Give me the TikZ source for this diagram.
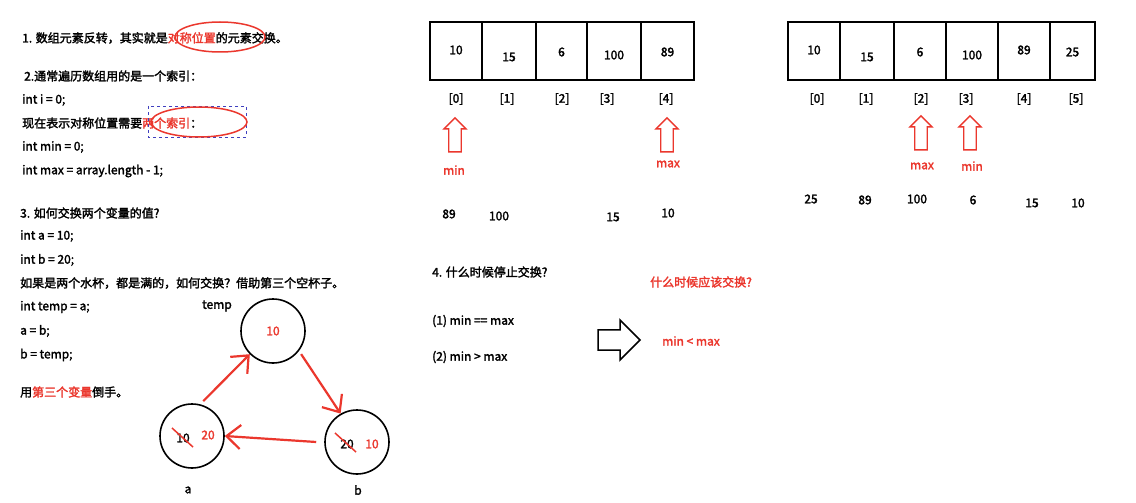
\documentclass[tikz,border=0pt]{standalone}
\usepackage{fontspec}
\setmainfont{Noto Sans CJK SC}[AutoFakeBold=2]
\usetikzlibrary{shapes.arrows,arrows.meta}
\definecolor{rd}{RGB}{235,55,45}
\begin{document}
\begin{tikzpicture}[x=1pt,y=-1pt,
  every node/.style={font=\fontsize{12}{14}\selectfont\bfseries},
  t/.style={anchor=west,inner sep=0},
  r/.style={text=rd},
  cell/.style={draw,line width=1.6pt},
  cup/.style={circle,draw,line width=1.6pt,minimum size=64pt},
  uparr/.style={single arrow,draw=rd,line width=1.3pt,shape border rotate=90,minimum height=34pt,minimum width=22pt,single arrow head extend=2pt,inner sep=2pt},
  ra/.style={draw=rd,line width=2.2pt,-{Straight Barb[length=14pt,width=24pt]}}]
\useasboundingbox (0,0) rectangle (1136,503);
\fill[white] (0,0) rectangle (1136,503);
% left text
\node[t] (l1) at (22,38) {1. 数组元素反转，其实就是\textcolor{rd}{对称位置}的元素交换。};
\draw[rd,line width=1.5pt] (220,37) ellipse (45 and 15);
\node[t] (l2) at (24,76) {2.通常遍历数组用的是一个索引：};
\node[t] (l3) at (22,100) {int i = 0;};
\node[t] (l4) at (22,123) {现在表示对称位置需要\textcolor{rd}{两个索引}：};
\draw[dashed,blue!50!gray,thin] (148,106) rectangle (246,137);
\draw[rd,line width=1.5pt] (199,122) ellipse (48 and 15);
\node[t] (l5) at (22,147) {int min = 0;};
\node[t] (l6) at (22,171) {int max = array.length - 1;};
\node[t] (l7) at (20,213) {3. 如何交换两个变量的值?};
\node[t] (l8) at (20,236) {int a = 10;};
\node[t] (l9) at (20,260) {int b = 20;};
\node[t] (l10) at (20,283) {如果是两个水杯，都是满的，如何交换？借助第三个空杯子。};
\node[t] (l11) at (20,307) {int temp = a;};
\node[t] (l12) at (20,331) {a = b;};
\node[t] (l13) at (20,355) {b = temp;};
\node[t] (l14) at (20,392) {用\textcolor{rd}{第三个变量}倒手。};
% cups
\node (tl) at (217,306) {temp};
\node[cup] (ct) at (273,331) {};
\node[r] at (ct) {10};
\node[cup] (ca) at (192,436) {};
\node[cup] (cb) at (357,442) {};
\node at (183,438) {10};
\node[r] at (208,435) {20};
\draw[rd,line width=1.5pt] (172,428) -- (193,447);
\node at (347,444) {20};
\node[r] at (372,444) {10};
\draw[rd,line width=1.5pt] (335,433) -- (356,452);
\node (la) at (188,490) {a};
\node (lb) at (358,490) {b};
\draw[ra] (ca.70) ++(0,-4) -- (ct.225);
\draw[ra] (ct.-40) ++(3,2) -- (cb.120);
\draw[ra] (cb.west) ++(-8,0) -- (ca.east);
% array 1
\foreach \a/\b/\v/\vy/\i/\ix [count=\k] in {430/482/10/50/[0]/456, 482/536/15/57/[1]/507, 536/587/6/52/[2]/562, 587/641/100/55/[3]/607, 641/694/89/52/[4]/666}{
  \draw[cell] (\a,22) rectangle (\b,80);
  \node at ({(\a+\b)/2},\vy) {\v};
  \node at (\ix,99) {\i};
}
\node[uparr] (ua1) at (455,138) {};
\node[uparr] (ua2) at (667,138) {};
\node[r] (mn1) at (454,170) {min};
\node[r] (mx1) at (668,164) {max};
\foreach \x/\y/\v in {449/214/89, 499/216/100, 613/217/15, 668/213/10} \node at (\x,\y) {\v};
% array 2
\foreach \a/\b/\v/\vy/\i/\ix in {788/840/10/50/[0]/817, 840/894/15/57/[1]/866, 894/946/6/52/[2]/921, 946/998/100/55/[3]/966, 998/1050/89/50/[4]/1024, 1050/1095/25/52/[5]/1076}{
  \draw[cell] (\a,22) rectangle (\b,80);
  \node at ({(\a+\b)/2},\vy) {\v};
  \node at (\ix,99) {\i};
}
\node[uparr] (ub1) at (921,136) {};
\node[uparr] (ub2) at (970,136) {};
\node[r] (mx2) at (922,166) {max};
\node[r] (mn2) at (972,166) {min};
\foreach \x/\y/\v in {811/199/25, 865/200/89, 917/199/100, 973/200/6, 1032/203/15, 1078/203/10} \node at (\x,\y) {\v};
% section 4
\node[t] (s4) at (432,272) {4. 什么时候停止交换?};
\node[t] (c1) at (432,321) {(1) min == max};
\node[t] (c2) at (432,357) {(2) min > max};
\node[single arrow,draw,line width=1.5pt,minimum height=42pt,minimum width=40pt,single arrow head extend=4pt] (ba) at (614,340) {};
\node[r,t] (q) at (650,282) {什么时候应该交换?};
\node[r,t] (ans) at (662,341) {min < max};
\end{tikzpicture}
\end{document}
